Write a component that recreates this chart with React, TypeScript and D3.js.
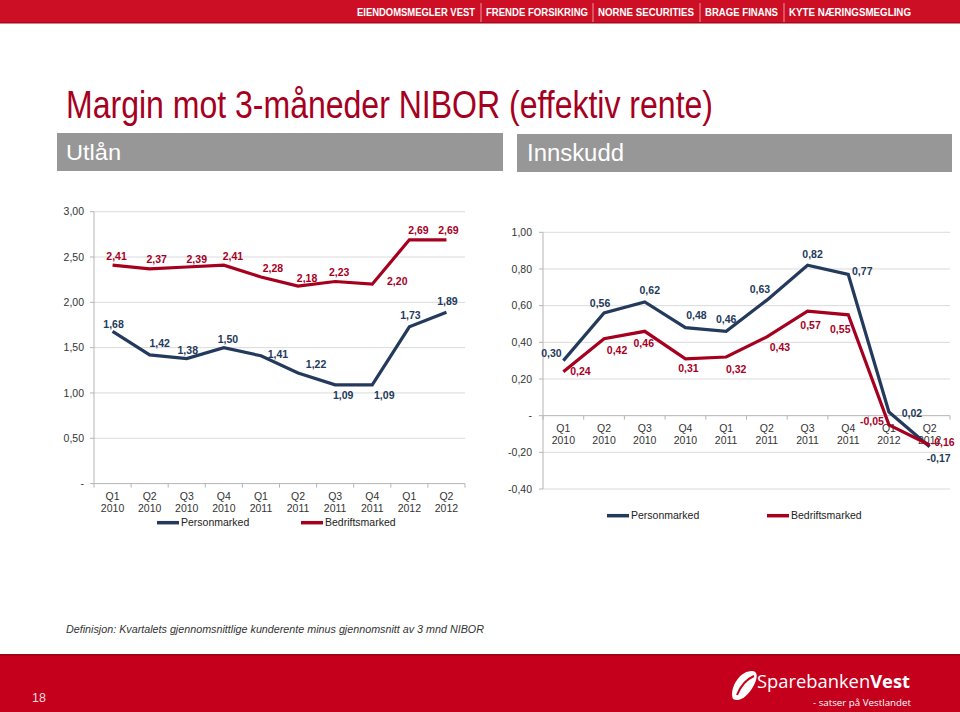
import React from "react";
import * as d3 from "d3";

// ---------- data ----------
const quarters = ["Q1 2010", "Q2 2010", "Q3 2010", "Q4 2010", "Q1 2011", "Q2 2011", "Q3 2011", "Q4 2011", "Q1 2012", "Q2 2012"];
const seriesNames = ["Personmarked", "Bedriftsmarked"];
const utlanPersonmarked = [1.68, 1.42, 1.38, 1.5, 1.41, 1.22, 1.09, 1.09, 1.73, 1.89];
const utlanBedriftsmarked = [2.41, 2.37, 2.39, 2.41, 2.28, 2.18, 2.23, 2.2, 2.69, 2.69];
const innskuddPersonmarked = [0.3, 0.56, 0.62, 0.48, 0.46, 0.63, 0.82, 0.77, 0.02, -0.17];
const innskuddBedriftsmarked = [0.24, 0.42, 0.46, 0.31, 0.32, 0.43, 0.57, 0.55, -0.05, -0.16];
const utlanTicks = [0, 0.5, 1, 1.5, 2, 2.5, 3];
const innskuddTicks = [-0.4, -0.2, 0, 0.2, 0.4, 0.6, 0.8, 1.0];
const bannerItems = ["EIENDOMSMEGLER VEST", "FRENDE FORSIKRING", "NORNE SECURITIES", "BRAGE FINANS", "KYTE NÆRINGSMEGLING"];

// ---------- layout (label nudges, not data) ----------
const utlanPersonOffsets = [[1, -7.5], [10, -12], [1, -8.5], [4, -8.5], [17, -1], [18, -9], [8, 11], [12, 11], [1, -11], [1, -11]];
const utlanBedriftOffsets = [[4, -8.5], [7, -9], [10, -8], [9, -8.5], [12, -9], [9, -8], [4, -9], [25, -3], [9, -9], [2, -9]];
const innskuddPersonOffsets = [[-12, -7], [-4, -10], [5, -12], [11, -12], [0, -12], [-7, -11], [5, -11], [14, -3], [23, 1], [9, 11]];
const innskuddBedriftOffsets = [[17, 0], [13, 12], [-1, 12], [3, 10], [10, 12], [13, 11], [3, 14], [-8, 15], [-17, -4], [13, -3]];

const NAVY = "#243a5c";
const RED = "#a6001f";
const FONT = "'Liberation Sans', Arial, sans-serif";

const loc = d3.formatLocale({ decimal: ",", thousands: " ", grouping: [3], currency: ["", ""], minus: "-" });
const f2 = loc.format(".2f");
const fmt = (v: number) => (Math.abs(v) < 1e-9 ? "-" : f2(v));

type Series = { name: string; values: number[]; color: string; offsets: number[][] };

function LineChart(props: {
  xRange: [number, number];
  domain: [number, number];
  yRange: [number, number];
  ticks: number[];
  series: Series[];
  tickLabelRight: number;
  labelLine1: number;
  legendY: number;
  legendX: number[];
}) {
  const { xRange, domain, yRange, ticks, series, tickLabelRight, labelLine1, legendY, legendX } = props;
  const x = d3.scaleBand<string>().domain(quarters).range(xRange).padding(0);
  const y = d3.scaleLinear().domain(domain).range(yRange);
  const cx = (c: string) => (x(c) as number) + x.bandwidth() / 2;
  const y0 = y(0);
  const boundaries = d3.range(quarters.length + 1).map((i) => xRange[0] + i * x.bandwidth());
  const line = d3
    .line<number>()
    .x((_, i) => cx(quarters[i]))
    .y((d) => y(d));
  return (
    <g fontFamily={FONT}>
      {ticks.map((t) => (
        <line key={"g" + t} x1={xRange[0]} x2={xRange[1]} y1={y(t)} y2={y(t)} stroke={Math.abs(t) < 1e-9 ? "#b5b5b5" : "#dadada"} strokeWidth={1} />
      ))}
      <line x1={xRange[0]} x2={xRange[0]} y1={y(domain[1])} y2={y(domain[0])} stroke="#b5b5b5" strokeWidth={1} />
      {ticks.map((t) => (
        <line key={"yt" + t} x1={xRange[0] - 4} x2={xRange[0]} y1={y(t)} y2={y(t)} stroke="#b5b5b5" />
      ))}
      {boundaries.map((b, i) => (
        <line key={"xt" + i} x1={b} x2={b} y1={y0} y2={y0 + 4} stroke="#b5b5b5" />
      ))}
      {ticks.map((t) => (
        <text key={"yl" + t} x={tickLabelRight} y={y(t)} dy="0.35em" textAnchor="end" fontSize={10.5} fill="#333">
          {fmt(t)}
        </text>
      ))}
      {quarters.map((q) => {
        const [a, b] = q.split(" ");
        return (
          <text key={"xl" + q} textAnchor="middle" fontSize={10.5} fill="#333">
            <tspan x={cx(q)} y={labelLine1} dy="0.35em">{a}</tspan>
            <tspan x={cx(q)} y={labelLine1 + 12} dy="0.35em">{b}</tspan>
          </text>
        );
      })}
      {series.map((s) => (
        <path key={"l" + s.name} d={line(s.values) || ""} fill="none" stroke={s.color} strokeWidth={3.2} strokeLinejoin="miter" />
      ))}
      {series.map((s) =>
        s.values.map((v, i) => (
          <text
            key={s.name + i}
            x={cx(quarters[i]) + s.offsets[i][0]}
            y={y(v) + s.offsets[i][1]}
            dy="0.35em"
            textAnchor="middle"
            fontSize={10.5}
            fontWeight="bold"
            fill={s.color}
          >
            {fmt(v)}
          </text>
        ))
      )}
      {series.map((s, i) => (
        <g key={"lg" + s.name}>
          <line x1={legendX[i]} x2={legendX[i] + 22} y1={legendY} y2={legendY} stroke={s.color} strokeWidth={3.5} />
          <text x={legendX[i] + 24} y={legendY} dy="0.35em" fontSize={10.5} fill="#222">
            {s.name}
          </text>
        </g>
      ))}
    </g>
  );
}

export default function App() {
  const bannerPos = [357, 486, 598, 705, 789];
  const bannerW = [118, 102, 96, 73, 122];
  return (
    <svg width={960} height={712} style={{ position: "absolute", left: 0, top: 0, background: "#fff" }} fontFamily={FONT}>
      <rect x={0} y={0} width={960} height={712} fill="#fff" />
      {/* top banner */}
      <rect x={0} y={0} width={960} height={23} fill="#cc0f25" />
      <rect x={0} y={22} width={960} height={1.5} fill="#a8081c" />
      {bannerItems.map((b, i) => (
        <g key={b}>
          <text x={bannerPos[i]} y={12} dy="0.35em" fontSize={10} fontWeight="bold" fill="#fff" textLength={bannerW[i]} lengthAdjust="spacingAndGlyphs">
            {b}
          </text>
          {i > 0 && <line x1={bannerPos[i] - 5} x2={bannerPos[i] - 5} y1={3} y2={22} stroke="#f3b7bf" strokeWidth={0.8} />}
        </g>
      ))}
      {/* title */}
      <text x={66} y={118} fontSize={38} fill="#a6001f" textLength={647} lengthAdjust="spacingAndGlyphs">
        Margin mot 3-måneder NIBOR (effektiv rente)
      </text>
      <rect x={57} y={133} width={446} height={38} fill="#979797" />
      <text x={66} y={159.5} fontSize={22} fill="#fff" textLength={55} lengthAdjust="spacingAndGlyphs">
        Utlån
      </text>
      <rect x={517} y={134} width={435} height={38} fill="#979797" />
      <text x={527} y={161} fontSize={23} fill="#fff" textLength={97} lengthAdjust="spacingAndGlyphs">
        Innskudd
      </text>

      <LineChart
        xRange={[94, 465]}
        domain={[0, 3]}
        yRange={[483.6, 211.7]}
        ticks={utlanTicks}
        tickLabelRight={84}
        labelLine1={496}
        legendY={522.7}
        legendX={[157, 301]}
        series={[
          { name: seriesNames[0], values: utlanPersonmarked, color: NAVY, offsets: utlanPersonOffsets },
          { name: seriesNames[1], values: utlanBedriftsmarked, color: RED, offsets: utlanBedriftOffsets },
        ]}
      />
      <LineChart
        xRange={[543, 950]}
        domain={[-0.4, 1.0]}
        yRange={[489, 232.3]}
        ticks={innskuddTicks}
        tickLabelRight={532}
        labelLine1={428.3}
        legendY={515.7}
        legendX={[607, 767]}
        series={[
          { name: seriesNames[0], values: innskuddPersonmarked, color: NAVY, offsets: innskuddPersonOffsets },
          { name: seriesNames[1], values: innskuddBedriftsmarked, color: RED, offsets: innskuddBedriftOffsets },
        ]}
      />

      {/* definition */}
      <text x={66} y={629} dy="0.35em" fontSize={10.5} fontStyle="italic" fill="#333" textLength={418} lengthAdjust="spacingAndGlyphs">
        Definisjon: Kvartalets gjennomsnittlige kunderente minus gjennomsnitt av 3 mnd NIBOR
      </text>

      {/* footer */}
      <rect x={0} y={655} width={960} height={57} fill="#c5001c" />
      <rect x={0} y={654} width={960} height={2} fill="#a30015" />
      <text x={32} y={701.7} fontSize={12.5} fill="#f6dede">18</text>
      <path d="M 733 699 C 729 690, 738 672, 751 671 C 758 670.5, 758 677, 754 685 C 749 695, 740 703, 733 699 Z" fill="#fff" />
      <path d="M 737 695 C 741 685, 747 679, 754 676" fill="none" stroke="#c5001c" strokeWidth={2} />
      <text x={757} y={688} fontSize={18} fill="#fff" textLength={153} lengthAdjust="spacingAndGlyphs" fontFamily="'Open Sans', 'Liberation Sans', sans-serif">
        <tspan>Sparebanken</tspan>
        <tspan fontWeight="bold">Vest</tspan>
      </text>
      <text x={813} y={706} fontSize={9.5} fill="#fff" textLength={98} lengthAdjust="spacingAndGlyphs" fontFamily="'Open Sans', 'Liberation Sans', sans-serif">
        - satser på Vestlandet
      </text>
    </svg>
  );
}
